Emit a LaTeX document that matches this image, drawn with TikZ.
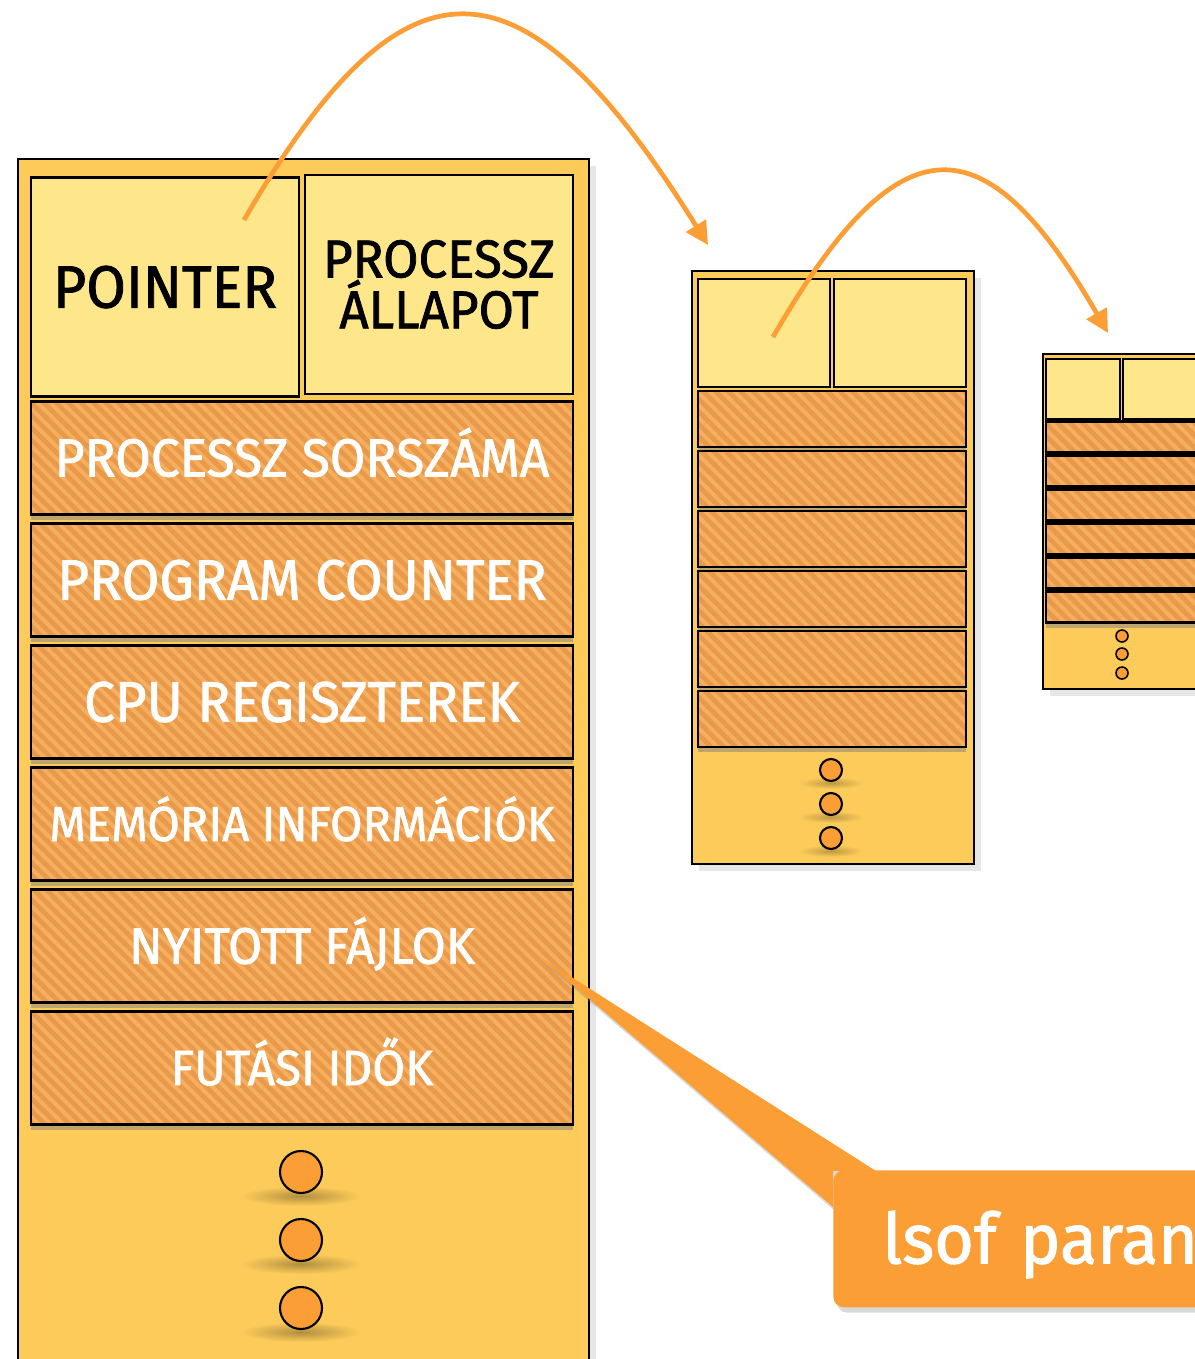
\documentclass[tikz,border=0pt]{standalone}
\usepackage{fontspec}
\setmainfont{Fira Sans}[FakeStretch=0.96,FakeBold=1.4]
\newfontfamily\hivofont{Fira Sans}[FakeStretch=0.97,FakeBold=1.4]
\usetikzlibrary{arrows.meta,patterns.meta,shadows}
\definecolor{arany}{HTML}{FDCB5A}
\definecolor{halvany}{HTML}{FEE68A}
\definecolor{narancs}{HTML}{E8994A}
\definecolor{csik}{HTML}{F6AF5F}
\definecolor{nyil}{HTML}{FC9E36}
\tikzset{
  meret/.style 2 args={minimum width=#1*0.02cm,minimum height=#2*0.02cm},
  tabla/.style={draw,line width=1.2pt,fill=arany,inner sep=0pt,anchor=north west,
    drop shadow={shadow xshift=4pt,shadow yshift=-4pt,opacity=.2}},
  mezo/.style={draw,line width=1.6pt,fill=halvany,inner sep=0pt},
  sor/.style={draw,line width=1.6pt,inner sep=0pt,
    drop shadow={shadow xshift=0pt,shadow yshift=-3pt,opacity=.5},
    preaction={fill=narancs},
    pattern={Lines[angle=-45,distance=5pt,line width=2.2pt]},pattern color=csik},
  felirat/.style={text=white,font=\fontsize{#1}{#1}\selectfont,text height=0.69*#1pt,text depth=0pt},
  pont/.style={circle,draw,line width=1.2pt,fill=nyil,inner sep=0pt},
  mutato/.style={nyil,line width=2.7pt,-{Triangle[length=13pt,width=13pt]}},
  hivo/.style={fill=nyil,rounded corners=6pt,anchor=north west,inner sep=0pt,
    drop shadow={shadow xshift=2pt,shadow yshift=-3pt,opacity=.3}}
}
\begin{document}
\begin{tikzpicture}[x=0.02cm,y=-0.02cm]
\useasboundingbox (0,0) rectangle (1195,1359);
\clip (0,0) rectangle (1195,1359);

% nagy PCB
\node[tabla,meret={571}{1260}] (pcb) at (17,158) {};
\node[mezo,meret={268}{219},font=\fontsize{34}{34}\selectfont,text height=23.5pt,text depth=0pt] (ptr) at (165,287) {POINTER};
\node[mezo,meret={268}{219},font=\fontsize{30.3}{25}\selectfont,align=center] (allapot) at (439,284.5) {PROCESSZ\\ÁLLAPOT};
\node[sor,felirat=30.5,meret={542}{113}] (sorszam) at (302,458) {PROCESSZ SORSZÁMA};
\node[sor,felirat=32.4,meret={542}{113}] (pc) at (302,580) {PROGRAM COUNTER};
\node[sor,felirat=32.5,meret={542}{113}] (cpu) at (302,702) {CPU REGISZTEREK};
\node[sor,felirat=27.9,meret={542}{113}] (mem) at (302,824) {MEMÓRIA INFORMÁCIÓK};
\node[sor,felirat=29.2,meret={542}{113}] (fajl) at (302,946) {NYITOTT FÁJLOK};
\node[sor,felirat=28.2,meret={542}{113}] (ido) at (302,1068) {FUTÁSI IDŐK};
\foreach \y in {1172,1240,1308}{
  \shade[inner color=black!30!arany,outer color=arany] (301,\y+24) ellipse [x radius=60,y radius=10];
  \node[pont,minimum size=42*0.02cm] (n\y) at (301,\y) {};
}

% kozepso PCB
\node[tabla,meret={282}{593}] (pcb2) at (691,270) {};
\node[mezo,meret={132}{108}] (ptr2) at (764,333) {};
\node[mezo,meret={132}{108}] (allapot2) at (900,333) {};
\foreach \y [count=\i] in {419,479,539,599,659,719}
  \node[sor,meret={268}{56}] (k\i) at (832,\y) {};
\foreach \y in {770,804,838}{
  \shade[inner color=black!25!arany,outer color=arany] (831,\y+13) ellipse [x radius=32,y radius=6];
  \node[pont,minimum size=22*0.02cm] (m\y) at (831,\y) {};
}

% jobb PCB
\node[tabla,meret={158}{335}] (pcb3) at (1042,353) {};
\node[mezo,meret={74}{60}] (ptr3) at (1083,389) {};
\node[mezo,meret={74}{60}] (allapot3) at (1160,389) {};
\foreach \y [count=\i] in {437,471,505,539,573,607}
  \node[sor,meret={150}{31}] (j\i) at (1121,\y) {};
\foreach \y in {636,654,673}
  \node[pont,line width=.9pt,minimum size=12*0.02cm] (r\y) at (1122,\y) {};

% mutatok
\coordinate (a1) at (244,220);
\coordinate (a1v) at (708,245);
\coordinate (a2) at (773,337);
\coordinate (a2v) at (1108,333);
\draw[mutato] (a1) .. controls +(160,-276) and +(-188,-301) .. (a1v);
\draw[mutato] (a2) .. controls +(126,-219) and +(-124,-215) .. (a2v);

% lsof
\coordinate (csucs) at (540,957);
\fill[nyil,drop shadow={shadow xshift=2pt,shadow yshift=-3pt,opacity=.3}]
  (csucs) -- (876,1171) -- (833,1171) -- (833,1207) -- cycle;
\node[hivo,meret={420}{137},text width=360*0.02cm,inner xsep=49*0.02cm,align=left,
  text=white,font=\hivofont\fontsize{40}{40}\selectfont,text height=33pt,text depth=5pt] (lsof) at (833,1170) {lsof paran};
\end{tikzpicture}
\end{document}
